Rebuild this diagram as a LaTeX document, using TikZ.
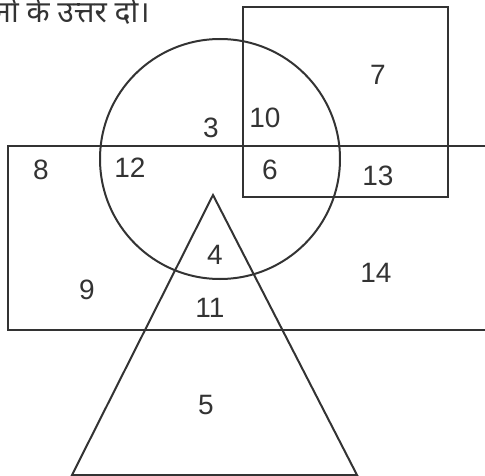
\documentclass[tikz,border=0pt]{standalone}
\usepackage{fontspec}
\setmainfont{Liberation Sans}
\newfontfamily\hindifont[Script=Devanagari]{Noto Sans}
\usetikzlibrary{positioning}
\definecolor{linegray}{HTML}{333333}
\tikzset{
  outline/.style={draw=linegray, line width=2pt},
  num/.style    ={font=\fontsize{28}{30}\selectfont, text=linegray, inner sep=0pt},
  note/.style   ={font=\hindifont\fontsize{30}{34}\selectfont, text=linegray,
                  inner sep=0pt, anchor=base east},
}

\begin{document}
\begin{tikzpicture}[x=1pt, y=-1pt]
  \useasboundingbox (0,0) rectangle (485,476);
  \clip (0,0) rectangle (485,476);
  % question text, cut at the left edge
  \node[note] (qtext) at (150,23) {नों के उत्तर दो।};
  % the four figures
  \draw[outline] (243,7) rectangle (448,197);
  \draw[outline] (520,146) -- (8,146) -- (8,330) -- (520,330);
  \draw[outline] (220,159) circle[radius=120];
  \draw[outline] (72,475) -- (213,195) -- (357,475) -- cycle;
  % region numbers
  \node[num] (n3)  at (211,128) {3};
  \node[num] (n10) at (265,118) {10};
  \node[num] (n7)  at (378,75)  {7};
  \node[num] (n8)  at (41,170)  {8};
  \node[num] (n12) at (130,168) {12};
  \node[num] (n6)  at (270,170) {6};
  \node[num] (n13) at (378,176) {13};
  \node[num] (n4)  at (215,255) {4};
  \node[num] (n9)  at (87,290)  {9};
  \node[num] (n14) at (376,273) {14};
  \node[num] (n11) at (210,308) {11};
  \node[num] (n5)  at (206,405) {5};
\end{tikzpicture}
\end{document}
